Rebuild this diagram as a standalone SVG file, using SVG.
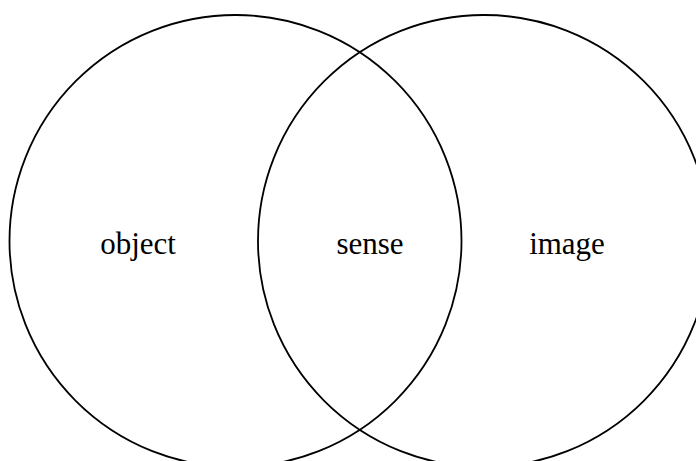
<svg xmlns="http://www.w3.org/2000/svg" width="696" height="461" viewBox="0 0 696 461">
<style>
.c{fill:none;stroke:#000;stroke-width:1.8}
.t{font-family:"Liberation Serif","Times New Roman",serif;font-size:31px;fill:#000;text-anchor:middle}
</style>
<rect width="696" height="461" fill="#fff"/>
<g id="object">
<circle class="c" cx="235.5" cy="241" r="226"/>
<text class="t" x="138" y="254">object</text>
</g>
<g id="image">
<circle class="c" cx="484" cy="241" r="226"/>
<text class="t" x="567" y="254">image</text>
</g>
<g id="sense">
<text class="t" x="370" y="254">sense</text>
</g>
<g id="connectors"></g>
</svg>
